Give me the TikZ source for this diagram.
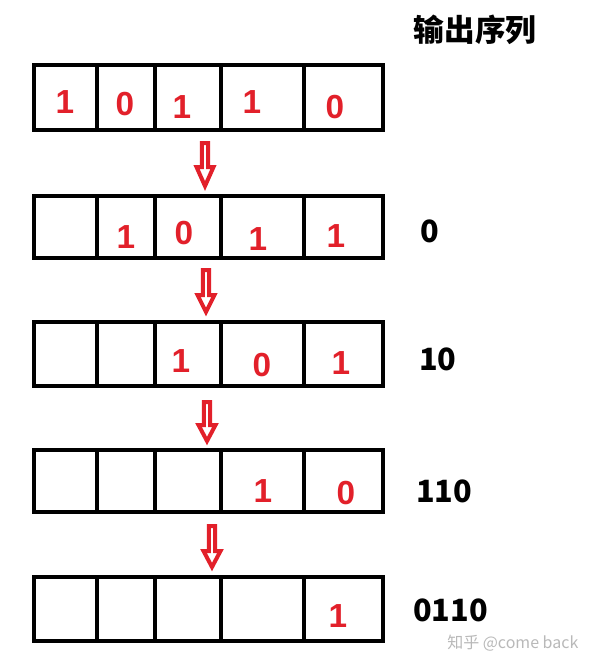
\documentclass[tikz,border=0pt]{standalone}
\usepackage{fontspec}
\setmainfont{Liberation Sans}
\newfontfamily\cjkfont{Noto Sans CJK SC}
\definecolor{bitred}{RGB}{226,32,42}
\definecolor{wmgrey}{RGB}{185,185,185}
\tikzset{
  boxline/.style={draw=black, line width=3.2pt, line join=miter},
  bit/.style={inner sep=0pt, text=bitred, font=\fontsize{25}{25}\selectfont\bfseries},
  outlabel/.style={inner sep=0pt, text=black, font=\cjkfont\bfseries\fontsize{23}{24}\selectfont},
  arrowline/.style={draw=bitred, line width=3pt, fill=white, line join=miter, miter limit=3},
}
\newcommand\blockarr[4]{%
  \draw[arrowline] (#1-3.2,#2) -- (#1+3.2,#2) -- (#1+3.2,#3) -- (#1+8.5,#3) -- (#1,#4)
    -- (#1-8.5,#3) -- (#1-3.2,#3) -- cycle;}
\begin{document}
\begin{tikzpicture}[x=0.75pt,y=-0.75pt]
\useasboundingbox[fill=white] (0,0) rectangle (592,668);
% rows of cells
\foreach \t/\b in {65/130,196/258,322/386,450/512,577/641}{
  \draw[boxline] (34,\t) rectangle (383,\b);
  \foreach \d in {97,155,221,304}{
    \draw[boxline] (\d,\t) -- (\d,\b);
  }
}
% row 1
\node[bit] (r1a) at (65,102) {1};
\node[bit] (r1b) at (125,104) {0};
\node[bit] (r1c) at (182,107) {1};
\node[bit] (r1d) at (252,102) {1};
\node[bit] (r1e) at (335,107) {0};
% row 2
\node[bit] (r2b) at (126,237) {1};
\node[bit] (r2c) at (184,233) {0};
\node[bit] (r2d) at (258,239) {1};
\node[bit] (r2e) at (336,236) {1};
% row 3
\node[bit] (r3c) at (181,361) {1};
\node[bit] (r3d) at (262,365) {0};
\node[bit] (r3e) at (341,363) {1};
% row 4
\node[bit] (r4d) at (263,491) {1};
\node[bit] (r4e) at (346,493) {0};
% row 5
\node[bit] (r5e) at (338,616) {1};
% arrows
\blockarr{205}{143}{167}{186}
\blockarr{206}{270}{295}{312}
\blockarr{207}{402}{425}{441}
\blockarr{212}{526}{551}{567}
% output sequence
\node[outlabel] (title) at (475,30) {输出序列};
\node[outlabel, anchor=west] (o1) at (420,231) {0};
\node[outlabel, anchor=west] (o2) at (419,359) {10};
\node[outlabel, anchor=west] (o3) at (416,491) {110};
\node[outlabel, anchor=west] (o4) at (413,610) {0110};
% watermark
\node[inner sep=0pt, text=wmgrey, font=\cjkfont\fontsize{12}{13}\selectfont, anchor=west] (wm) at (447,643) {知乎 @come back};
\end{tikzpicture}
\end{document}
